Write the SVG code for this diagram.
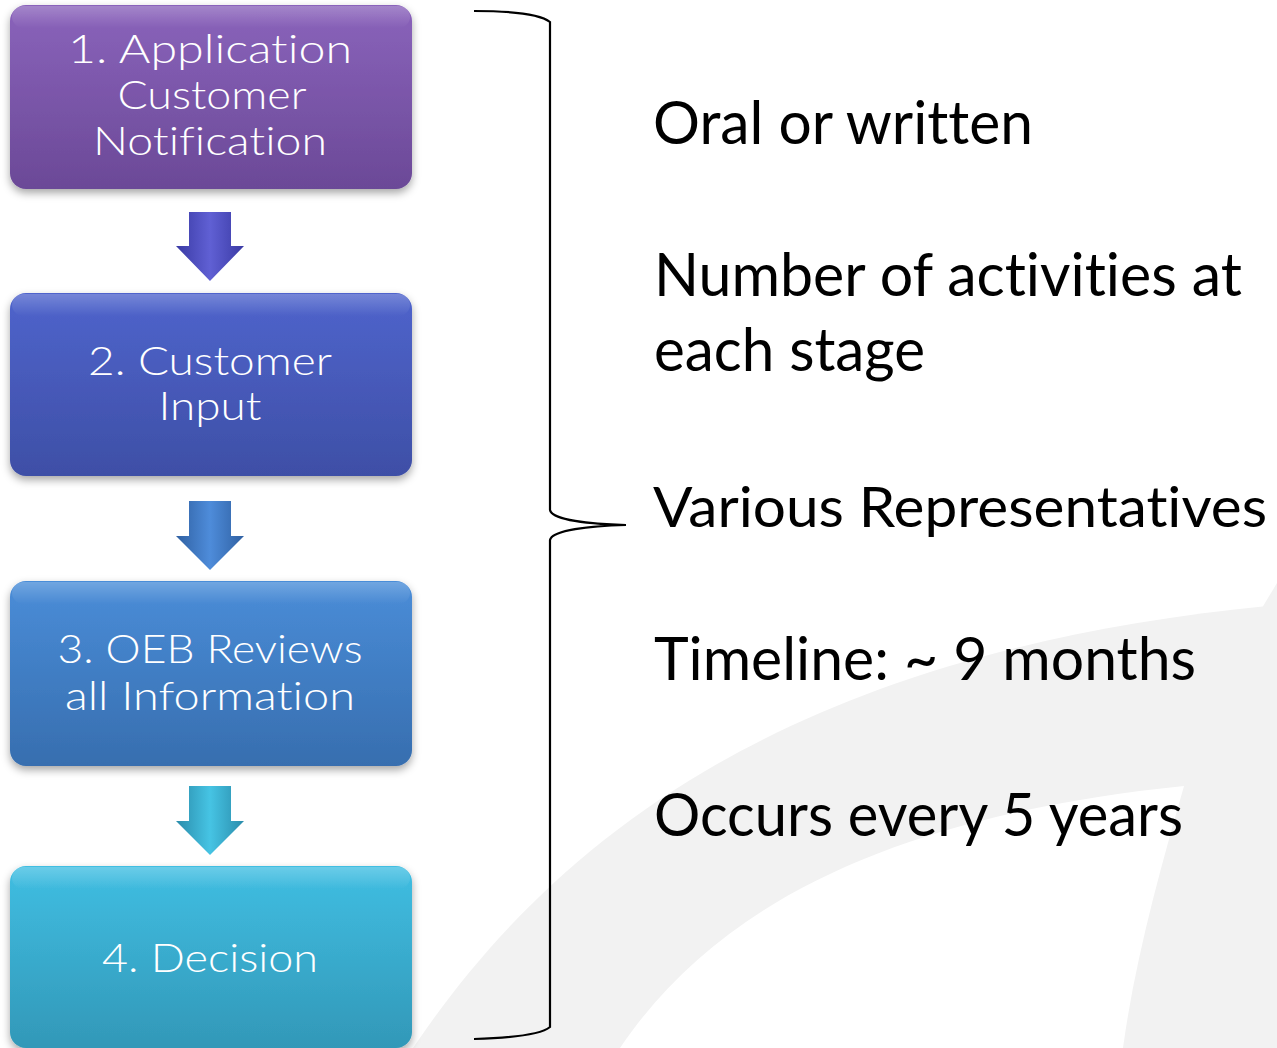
<svg xmlns="http://www.w3.org/2000/svg" width="1277" height="1048" viewBox="0 0 1277 1048">
  <defs>
    <style>
      text { font-variant-ligatures: none; font-feature-settings: "liga" 0, "clig" 0; }
      .boxtxt { font-family: "Lato", "Liberation Sans", sans-serif; font-weight: 300; font-size: 40px; fill: #ffffff; text-anchor: middle; }
      .side { font-family: "Lato", "Open Sans", "Liberation Sans", sans-serif; font-size: 60px; fill: #000000; }
      .bracket { fill: none; stroke: #000000; stroke-width: 2.2; }
      .gloss { fill: url(#gloss); }
    </style>
    <filter id="shadow" x="-10%" y="-10%" width="120%" height="130%">
      <feDropShadow dx="0" dy="4" stdDeviation="4" flood-color="#000" flood-opacity="0.35"/>
    </filter>
    <linearGradient id="g1" x1="0" y1="0" x2="0" y2="1">
      <stop offset="0" stop-color="#8a63bb"/>
      <stop offset="1" stop-color="#6b4997"/>
    </linearGradient>
    <linearGradient id="g2" x1="0" y1="0" x2="0" y2="1">
      <stop offset="0" stop-color="#4f64cc"/>
      <stop offset="1" stop-color="#3e4fa6"/>
    </linearGradient>
    <linearGradient id="g3" x1="0" y1="0" x2="0" y2="1">
      <stop offset="0" stop-color="#4a8dd8"/>
      <stop offset="1" stop-color="#376eaf"/>
    </linearGradient>
    <linearGradient id="g4" x1="0" y1="0" x2="0" y2="1">
      <stop offset="0" stop-color="#40bee2"/>
      <stop offset="1" stop-color="#3298b8"/>
    </linearGradient>
    <linearGradient id="gloss" x1="0" y1="0" x2="0" y2="1">
      <stop offset="0" stop-color="#ffffff" stop-opacity="0.22"/>
      <stop offset="1" stop-color="#ffffff" stop-opacity="0"/>
    </linearGradient>
    <linearGradient id="a1" x1="0" y1="0" x2="1" y2="0">
      <stop offset="0" stop-color="#3a3aa4"/>
      <stop offset="0.5" stop-color="#6060d4"/>
      <stop offset="1" stop-color="#3a3aa4"/>
    </linearGradient>
    <linearGradient id="a2" x1="0" y1="0" x2="1" y2="0">
      <stop offset="0" stop-color="#2f60a2"/>
      <stop offset="0.5" stop-color="#4e8cda"/>
      <stop offset="1" stop-color="#2f60a2"/>
    </linearGradient>
    <linearGradient id="a3" x1="0" y1="0" x2="1" y2="0">
      <stop offset="0" stop-color="#2a8cab"/>
      <stop offset="0.5" stop-color="#46c4e4"/>
      <stop offset="1" stop-color="#2a8cab"/>
    </linearGradient>
  </defs>

  <rect x="0" y="0" width="1277" height="1048" fill="#ffffff"/>

  <g id="background">
    <path d="M413,1048 C560,830 800,650 1277,605 L1277,1048 Z" fill="#f2f2f2"/>
    <path d="M620,1048 C720,900 900,815 1184,786 C1160,870 1135,960 1123,1048 Z" fill="#ffffff"/>
    <path d="M1262,608 L1277,583 L1277,608 Z" fill="#f2f2f2"/>
  </g>

  <g id="node1">
    <rect x="10" y="5" width="402" height="184" rx="16" fill="url(#g1)" filter="url(#shadow)"/>
    <rect x="12" y="6" width="398" height="22" rx="12" class="gloss"/>
    <text class="boxtxt" x="210" y="63" textLength="284" lengthAdjust="spacingAndGlyphs">1. Application</text>
    <text class="boxtxt" x="212" y="109" textLength="189" lengthAdjust="spacingAndGlyphs">Customer</text>
    <text class="boxtxt" x="210" y="155" textLength="234" lengthAdjust="spacingAndGlyphs">Notification</text>
  </g>

  <g id="node2">
    <rect x="10" y="293" width="402" height="183" rx="16" fill="url(#g2)" filter="url(#shadow)"/>
    <rect x="12" y="294" width="398" height="22" rx="12" class="gloss"/>
    <text class="boxtxt" x="210" y="375" textLength="244" lengthAdjust="spacingAndGlyphs">2. Customer</text>
    <text class="boxtxt" x="210" y="420" textLength="103" lengthAdjust="spacingAndGlyphs">Input</text>
  </g>

  <g id="node3">
    <rect x="10" y="581" width="402" height="185" rx="16" fill="url(#g3)" filter="url(#shadow)"/>
    <rect x="12" y="582" width="398" height="22" rx="12" class="gloss"/>
    <text class="boxtxt" x="210" y="663" textLength="305" lengthAdjust="spacingAndGlyphs">3. OEB Reviews</text>
    <text class="boxtxt" x="210" y="710" textLength="290" lengthAdjust="spacingAndGlyphs">all Information</text>
  </g>

  <g id="node4">
    <rect x="10" y="866" width="402" height="182" rx="16" fill="url(#g4)" filter="url(#shadow)"/>
    <rect x="12" y="867" width="398" height="22" rx="12" class="gloss"/>
    <text class="boxtxt" x="210" y="972" textLength="216" lengthAdjust="spacingAndGlyphs">4. Decision</text>
  </g>

  <g id="connectors">
    <path d="M189,212 L231,212 L231,246 L244,246 L210,281 L176,246 L189,246 Z" fill="url(#a1)"/>
    <path d="M189,501 L231,501 L231,536 L244,536 L210,570 L176,536 L189,536 Z" fill="url(#a2)"/>
    <path d="M189,786 L231,786 L231,821 L244,821 L210,855 L176,821 L189,821 Z" fill="url(#a3)"/>
    <path class="bracket" d="M474,11 C510,11 540,14 550,22 L550,510 C552,520 590,524 626,525 C590,526 552,530 550,540 L550,1027 C540,1035 510,1038 474,1039"/>
  </g>

  <g id="notes">
    <text class="side" x="653" y="144" textLength="380" lengthAdjust="spacingAndGlyphs">Oral or written</text>
    <text class="side" x="654" y="296" textLength="588" lengthAdjust="spacingAndGlyphs">Number of activities at</text>
    <text class="side" x="654" y="371" textLength="271" lengthAdjust="spacingAndGlyphs">each stage</text>
    <text class="side" x="653" y="527" style="font-size:56px" textLength="614" lengthAdjust="spacingAndGlyphs">Various Representatives</text>
    <text class="side" x="654" y="680" textLength="542" lengthAdjust="spacingAndGlyphs">Timeline: ~ 9 months</text>
    <text class="side" x="654" y="836" textLength="529" lengthAdjust="spacingAndGlyphs">Occurs every 5 years</text>
  </g>
</svg>
